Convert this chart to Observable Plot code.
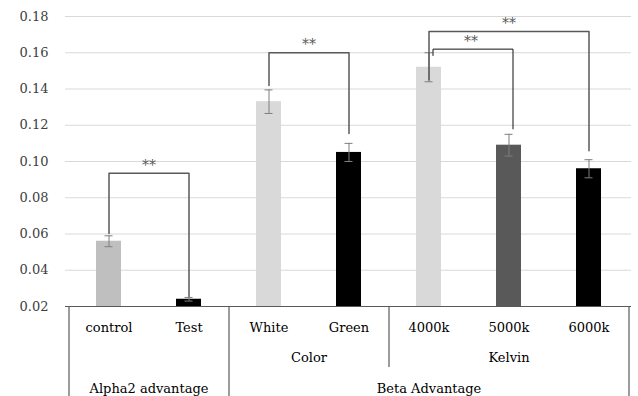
<!DOCTYPE html>
<html><head><meta charset="utf-8">
<script src="https://cdn.jsdelivr.net/npm/d3@7"></script>
<script src="https://cdn.jsdelivr.net/npm/@observablehq/plot@0.6"></script>
<style>
html,body{margin:0;padding:0;background:#fff;}
</style></head><body><div id="chart"></div>
<script>
// ---- data ----
const categories = ["control", "Test", "White", "Green", "4000k", "5000k", "6000k"];
const means = [0.056, 0.024, 0.133, 0.105, 0.152, 0.109, 0.096];
const errors = [0.003, 0.001, 0.0065, 0.005, 0.008, 0.006, 0.005];
const barColors = ["#bfbfbf", "#000000", "#d9d9d9", "#000000", "#d9d9d9", "#595959", "#000000"];

const yTicks = [0.02, 0.04, 0.06, 0.08, 0.10, 0.12, 0.14, 0.16, 0.18];

// sub-group row
const subLabels = ["Color", "Kelvin"];
const subFrom = ["White", "4000k"];
const subTo = ["Green", "6000k"];
// top-group row
const groupLabels = ["Alpha2 advantage", "Beta Advantage"];
const groupFrom = ["control", "White"];
const groupTo = ["Test", "6000k"];

// significance brackets
const bracketLabel = ["**", "**", "**", "**"];
const bracketFrom = ["control", "White", "4000k", "4000k"];
const bracketTo = ["Test", "Green", "5000k", "6000k"];
const bracketTop = [0.0935, 0.160, 0.162, 0.1717];
const bracketLeftEnd = [0.0603, 0.142, 0.1585, 0.1450];
const bracketRightEnd = [0.0255, 0.1155, 0.1180, 0.1060];

// ---- build tables ----
const bars = categories.map((c, i) => ({cat: c, mean: means[i], err: errors[i]}));
const idx = c => categories.indexOf(c);

const W = 638, H = 396;
const M = {top: 16, right: 7, bottom: 90, left: 65};
const frameH = H - M.top - M.bottom;
const font = "DejaVu Serif";
const fs = 13;
const ink = "#404040";
const lineCol = "#595959";

const base = {
  width: W, height: H,
  marginTop: M.top, marginRight: M.right, marginBottom: M.bottom, marginLeft: M.left,
  x: {domain: categories, paddingInner: 0.69, paddingOuter: 0.345, axis: null},
  y: {domain: [yTicks[0], yTicks[yTicks.length - 1]], axis: null},
  color: {domain: categories, range: barColors},
  style: {fontFamily: font, fontSize: fs + "px", background: "#fff", overflow: "visible"}
};

const probe = Plot.plot({...base, marks: [Plot.barY(bars, {x: "cat", y1: yTicks[0], y2: "mean"})]});
const xs = probe.scale("x");
const step = xs.step ?? (xs.bandwidth / (1 - 0.69));

function spanText(label, from, to, dy, size) {
  const mid = (idx(from) + idx(to)) / 2;
  const k = Math.floor(mid);
  return Plot.text([label], {
    x: () => categories[k], frameAnchor: "bottom", dy,
    dx: (mid - k) * step, text: d => d, fontSize: size, fill: "#000",
    lineAnchor: "middle", fontFamily: font
  });
}

const bracketPts = [];
bracketFrom.forEach((f, i) => {
  bracketPts.push({id: i, x: f, y: bracketLeftEnd[i]});
  bracketPts.push({id: i, x: f, y: bracketTop[i]});
  bracketPts.push({id: i, x: bracketTo[i], y: bracketTop[i]});
  bracketPts.push({id: i, x: bracketTo[i], y: bracketRightEnd[i]});
});

const marks = [
  Plot.ruleY(yTicks.slice(1), {stroke: "#d9d9d9", strokeWidth: 1}),
  Plot.barY(bars, {x: "cat", y1: yTicks[0], y2: "mean", fill: "cat"}),
  Plot.ruleY([yTicks[0]], {stroke: lineCol, strokeWidth: 1.2}),
  Plot.ruleX(bars, {x: "cat", y1: d => d.mean - d.err, y2: d => d.mean + d.err, stroke: "#7f7f7f", strokeWidth: 1}),
  Plot.tickY(bars, {x: "cat", y: d => d.mean + d.err, stroke: "#7f7f7f", strokeWidth: 1, insetLeft: 8.5, insetRight: 8.5}),
  Plot.tickY(bars, {x: "cat", y: d => d.mean - d.err, stroke: "#7f7f7f", strokeWidth: 1, insetLeft: 8.5, insetRight: 8.5}),
  Plot.line(bracketPts.filter(d => d.id !== 2), {x: "x", y: "y", z: "id", stroke: lineCol, strokeWidth: 1.5, curve: "linear"}),
  Plot.line(bracketPts.filter(d => d.id === 2), {x: "x", y: "y", z: "id", stroke: "#111", strokeWidth: 1, dx: 4, curve: "linear"}),
  Plot.text(yTicks, {y: d => d, frameAnchor: "left", dx: -17, textAnchor: "end", text: d => d3.format(".2f")(d), fontSize: fs, fill: ink, fontFamily: font}),
  Plot.text(categories, {x: d => d, frameAnchor: "bottom", dy: 21, text: d => d, fontSize: fs, fill: "#000", lineAnchor: "middle", fontFamily: font}),
  Plot.ruleX([categories[0]], {x: d => d, dx: -step / 2, insetTop: frameH, insetBottom: -M.bottom, stroke: lineCol, strokeWidth: 1.2}),
  Plot.ruleX([groupFrom[1]], {x: d => d, dx: -step / 2, insetTop: frameH, insetBottom: -M.bottom, stroke: lineCol, strokeWidth: 1.2}),
  Plot.ruleX([subFrom[1]], {x: d => d, dx: -step / 2, insetTop: frameH, insetBottom: -61, stroke: lineCol, strokeWidth: 1.2}),
  Plot.ruleX([categories[categories.length - 1]], {x: d => d, dx: step / 2, insetTop: frameH, insetBottom: -M.bottom, stroke: lineCol, strokeWidth: 1.2})
];

subLabels.forEach((l, i) => marks.push(spanText(l, subFrom[i], subTo[i], 51, fs)));
groupLabels.forEach((l, i) => marks.push(spanText(l, groupFrom[i], groupTo[i], 82, fs)));

bracketLabel.forEach((l, i) => {
  const mid = (idx(bracketFrom[i]) + idx(bracketTo[i])) / 2;
  const k = Math.floor(mid);
  marks.push(Plot.text([l], {
    x: () => categories[k], y: () => bracketTop[i], text: d => d,
    dx: (mid - k) * step + (i === 2 ? 2 : 0), dy: -8, lineAnchor: "middle",
    fontSize: 14, fill: lineCol, fontFamily: font
  }));
});

const chart = Plot.plot({...base, marks});
document.getElementById("chart").appendChild(chart);
</script>
</body></html>
